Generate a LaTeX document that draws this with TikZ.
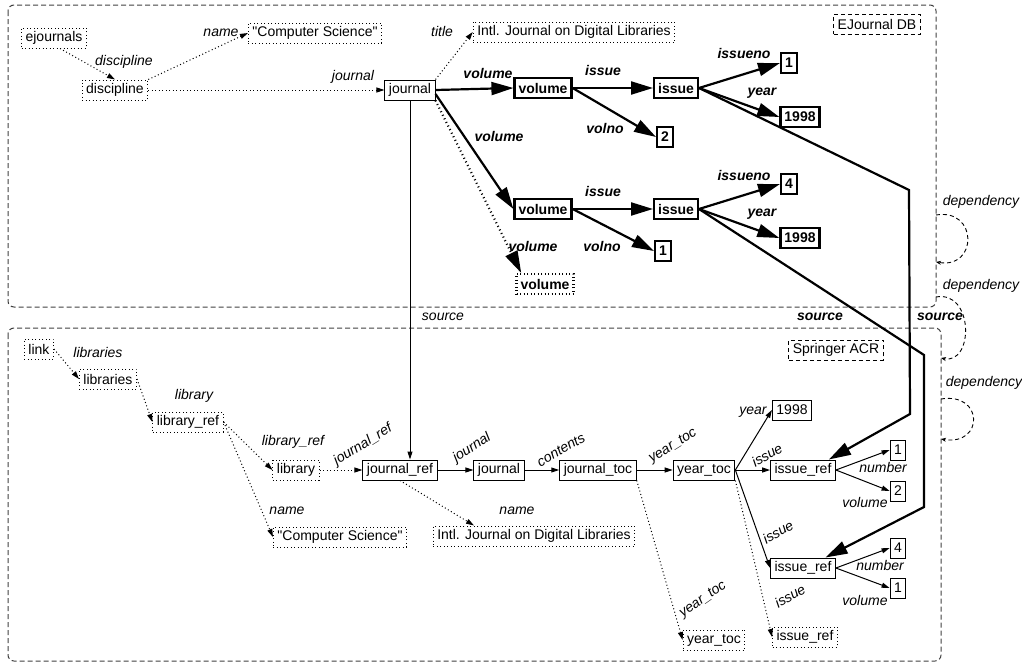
\documentclass[tikz,border=0pt]{standalone}
\usepackage{fontspec}
\setmainfont{Liberation Sans}
\usetikzlibrary{arrows.meta,positioning,calc}
\newcommand{\dfont}{\fontsize{14pt}{16pt}\selectfont}

\begin{document}
\begin{tikzpicture}[x=1pt,y=-1pt,font=\dfont,
  plainbox/.style={draw,line width=1pt,inner xsep=4pt,inner ysep=1pt,minimum height=20pt,font=\dfont},
  boldbox/.style={plainbox,line width=2.2pt,font=\dfont\bfseries},
  dotbox/.style={plainbox,dash pattern=on 1pt off 2.5pt},
  dashbox/.style={plainbox,dash pattern=on 4pt off 3pt},
  lbl/.style={font=\dfont\itshape,inner sep=0pt},
  blbl/.style={font=\dfont\bfseries\itshape,inner sep=0pt},
  thinarr/.style={line width=1pt,-{Triangle[length=8pt,width=5pt]}},
  dotarr/.style={thinarr,dash pattern=on 1pt off 2.5pt},
  thickarr/.style={line width=2.2pt,-{Triangle[length=22pt,width=13pt]}},
  frame/.style={draw=black!75,line width=1pt,dash pattern=on 5pt off 3pt,rounded corners=6pt},
  dep/.style={line width=0.9pt,dash pattern=on 4pt off 3pt,-{Stealth[length=5pt,width=4pt]}}]
\useasboundingbox (0,0) rectangle (1022,664);

% the two sources
\draw[frame] (8,5) rectangle (936,307);
\draw[frame] (8,328) rectangle (941,661);
\node[dashbox] (ejdb) at (877,24) {EJournal DB};
\node[dashbox] (acr) at (836,350) {Springer ACR};

% EJournal DB
\node[dotbox] (ejournals) at (54,38) {ejournals};
\node[dotbox] (discA) at (115,90) {discipline};
\node[dotbox] (csA) at (315,33) {\textquotedbl Computer Science\textquotedbl};
\node[plainbox] (jrnA) at (410,90) {journal};
\node[dotbox] (titleA) at (574,32) {Intl. Journal on Digital Libraries};
\node[boldbox] (vol1) at (543,88) {volume};
\node[boldbox] (iss1) at (676,88) {issue};
\node[boldbox] (no2) at (665,137) {2};
\node[boldbox] (no1) at (789,63) {1};
\node[boldbox] (yr1) at (800,117) {1998};
\node[boldbox] (vol2) at (543,209) {volume};
\node[boldbox] (iss2) at (676,209) {issue};
\node[boldbox] (vno1) at (663,251) {1};
\node[boldbox] (no4) at (789,184) {4};
\node[boldbox] (yr2) at (800,238) {1998};
\node[boldbox,dash pattern=on 1pt off 2.5pt] (vol3) at (545,284) {volume};

\draw[dotarr] ([xshift=6]ejournals.south) -- (discA.north);
\draw[dotarr] (discA.north east) -- (csA.west);
\draw[dotarr] (discA.east) -- (jrnA.west);
\draw[dotarr] (jrnA.north east) -- (titleA.west);
\draw[thickarr] (jrnA.east) -- (vol1.west);
\draw[thickarr] (vol1.east) -- (iss1.west);
\draw[thickarr] (vol1.east) -- (no2.west);
\draw[thickarr] (iss1.east) -- (no1.west);
\draw[thickarr] (iss1.east) -- (yr1.west);
\draw[thickarr] ([yshift=-4]jrnA.east) -- (vol2.west);
\draw[thickarr] (vol2.east) -- (iss2.west);
\draw[thickarr] (vol2.east) -- (vno1.west);
\draw[thickarr] (iss2.east) -- (no4.west);
\draw[thickarr] (iss2.east) -- (yr2.west);
\draw[thickarr,dash pattern=on 1pt off 3pt] (jrnA.south east) -- (vol3.155);

\foreach \n/\x/\y/\t in {la1/124/62/discipline,la2/221/33/name,la3/353/77/journal,la4/442/31/title}
  \node[lbl] (\n) at (\x,\y) {\t};
\foreach \n/\x/\y/\t in {lb1/488/73/volume,lb2/603/70/issue,lb3/605/128/volno,lb4/744/53/issueno,lb5/762/93/year,
  lb6/499/136/volume,lb7/603/191/issue,lb8/602/246/volno,lb9/744/175/issueno,lb10/762/214/year,lb11/533/246/volume}
  \node[blbl] (\n) at (\x,\y) {\t};

% Springer ACR
\node[dotbox] (link) at (39,349) {link};
\node[dotbox] (libs) at (108,379) {libraries};
\node[dotbox] (libref) at (188,422) {library\_ref};
\node[dotbox] (library) at (296,470) {library};
\node[plainbox] (jrefB) at (400,470) {journal\_ref};
\node[dotbox] (csB) at (340,537) {\textquotedbl Computer Science\textquotedbl};
\node[dotbox] (titleB) at (534,536) {Intl. Journal on Digital Libraries};
\node[plainbox] (jrnB) at (499,470) {journal};
\node[plainbox] (jtoc) at (598,470) {journal\_toc};
\node[plainbox] (ytoc) at (704,470) {year\_toc};
\node[plainbox] (yrB) at (792,410) {1998};
\node[plainbox] (ir1) at (803,470) {issue\_ref};
\node[plainbox] (c1) at (898,450) {1};
\node[plainbox] (c2) at (898,491) {2};
\node[plainbox] (ir2) at (803,568) {issue\_ref};
\node[plainbox] (d4) at (898,548) {4};
\node[plainbox] (d1) at (898,588) {1};
\node[dotbox] (ytdot) at (714,640) {year\_toc};
\node[dotbox] (irdot) at (805,637) {issue\_ref};

\draw[dotarr] (link.east) -- (libs.west);
\draw[dotarr] (libs.east) -- (libref.west);
\draw[dotarr] (libref.east) -- (library.west);
\draw[dotarr] (libref.east) -- (csB.west);
\draw[dotarr] (library.east) -- (jrefB.west);
\draw[dotarr] (jrefB.south) -- ([xshift=-60]titleB.north);
\draw[thinarr] (jrefB.east) -- (jrnB.west);
\draw[thinarr] (jrnB.east) -- (jtoc.west);
\draw[thinarr] (jtoc.east) -- (ytoc.west);
\draw[dotarr] (jtoc.south east) -- (ytdot.west);
\draw[thinarr] (ytoc.east) -- (yrB.west);
\draw[thinarr] (ytoc.east) -- (ir1.west);
\draw[thinarr] (ytoc.east) -- (ir2.west);
\draw[dotarr] (ytoc.south east) -- (irdot.west);
\draw[thinarr] (ir1.east) -- (c1.west);
\draw[thinarr] (ir1.east) -- (c2.west);
\draw[thinarr] (ir2.east) -- (d4.west);
\draw[thinarr] (ir2.east) -- (d1.west);
\draw[thinarr] (jrnA.south) -- (jrnA.south |- jrefB.north);

\foreach \n/\x/\y/\t in {lc1/98/352/libraries,lc2/194/396/library,lc3/293/442/library\_ref,lc4/287/511/name,
  lc5/517/511/name,lc6/753/412/year,lc7/883/467/number,lc8/865/502/volume,lc9/880/565/number,lc10/865/600/volume,
  lc11/443/317/source}
  \node[lbl] (\n) at (\x,\y) {\t};
% slanted edge labels
\node[lbl,rotate=32] (ld1) at (363,445) {journal\_ref};
\node[lbl,rotate=33] (ld2) at (472,448) {journal};
\node[lbl,rotate=30] (ld3) at (561,450) {contents};
\node[lbl,rotate=32] (ld4) at (673,446) {year\_toc};
\node[lbl,rotate=30] (ld5) at (767,455) {issue};
\node[lbl,rotate=30] (ld6) at (778,532) {issue};
\node[lbl,rotate=30] (ld7) at (790,596) {issue};
\node[lbl,rotate=35] (ld8) at (703,600) {year\_toc};

% source mappings between the two
\coordinate (s1a) at (909,190);
\coordinate (s1b) at (910,414);
\coordinate (s2a) at (924,355);
\coordinate (s2b) at (924,507);
\draw[thickarr] (iss1.east) -- (s1a) -- (s1b) -- ([xshift=-7]ir1.north east);
\draw[thickarr] (iss2.east) -- (s2a) -- (s2b) -- (ir2.25);
\node[blbl] (src1) at (820,317) {source};
\node[blbl] (src2) at (940,317) {source};

% dependencies
\coordinate (p1) at (936,215);
\coordinate (q1) at (936,262);
\coordinate (p2) at (936,297);
\coordinate (q2) at (941,358);
\coordinate (p3) at (941,399);
\coordinate (q3) at (941,439);
\draw[dep] (p1) .. controls (978,208) and (978,269) .. (q1);
\draw[dep] (p2) .. controls (974,290) and (974,365) .. (q2);
\draw[dep] (p3) .. controls (984,392) and (984,446) .. (q3);
\node[lbl] (dep1) at (981,202) {dependency};
\node[lbl] (dep2) at (981,286) {dependency};
\node[lbl] (dep3) at (984,383) {dependency};
\end{tikzpicture}
\end{document}
